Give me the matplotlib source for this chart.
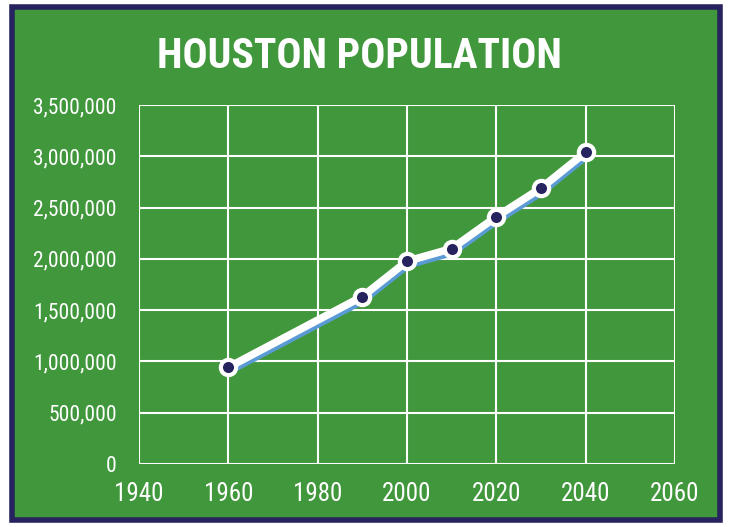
import matplotlib.pyplot as plt
import matplotlib.transforms as mtransforms
from matplotlib.patches import Rectangle
from matplotlib.ticker import FuncFormatter

years = [1960, 1990, 2000, 2010, 2020, 2030, 2040]
population = [943000, 1633000, 1977000, 2100000, 2411000, 2690000, 3040000]
x_ticks = [1940, 1960, 1980, 2000, 2020, 2040, 2060]
y_ticks = [0, 500000, 1000000, 1500000, 2000000, 2500000, 3000000, 3500000]
title = "HOUSTON POPULATION"

GREEN = "#41973b"
NAVY = "#27235f"
BLUE = "#5b9bd5"
FONT = ["Roboto Condensed", "Liberation Sans", "DejaVu Sans"]

fig = plt.figure(figsize=(7.3, 5.27), dpi=100)
fig.patch.set_facecolor("white")

# framed green panel, kept behind the axes
fig.patches.append(Rectangle((12 / 730, 7 / 527), 708 / 730, 513 / 527,
                             transform=fig.transFigure, facecolor=GREEN,
                             edgecolor=NAVY, linewidth=4, zorder=-5))

ax = fig.add_axes([139 / 730, 63 / 527, 536 / 730, 359 / 527])
ax.set_zorder(2)
ax.set_facecolor("none")
ax.set_xlim(1940, 2060)
ax.set_ylim(0, 3500000)
ax.set_xticks(x_ticks)
ax.set_yticks(y_ticks)
ax.yaxis.set_major_formatter(FuncFormatter(lambda v, p: f"{int(v):,}"))
ax.grid(True, color="white", linewidth=1.5)
ax.set_axisbelow(True)
for s in ax.spines.values():
    s.set_visible(False)
ax.tick_params(length=0, colors="white")
ax.tick_params(axis="y", pad=16, labelsize=15.5)
ax.tick_params(axis="x", pad=13, labelsize=18)
for lbl in ax.get_xticklabels() + ax.get_yticklabels():
    lbl.set_fontfamily(FONT)

# blue line sits slightly below the white one
shift = mtransforms.offset_copy(ax.transData, fig=fig, x=1, y=-4, units="dots")
ax.plot(years, population, color=BLUE, linewidth=5, transform=shift,
        solid_capstyle="round", zorder=3)
ax.plot(years, population, color="white", linewidth=5.5, zorder=4,
        solid_capstyle="round")
ax.plot(years, population, linestyle="none", marker="o", markersize=11,
        markerfacecolor=NAVY, markeredgecolor="white", markeredgewidth=3,
        zorder=5, clip_on=False)

fig.text(0.492, 0.893, title, color="white", fontsize=30,
         fontweight="bold", family=FONT, ha="center", va="center", zorder=3)

plt.savefig("out.png", dpi=100)
